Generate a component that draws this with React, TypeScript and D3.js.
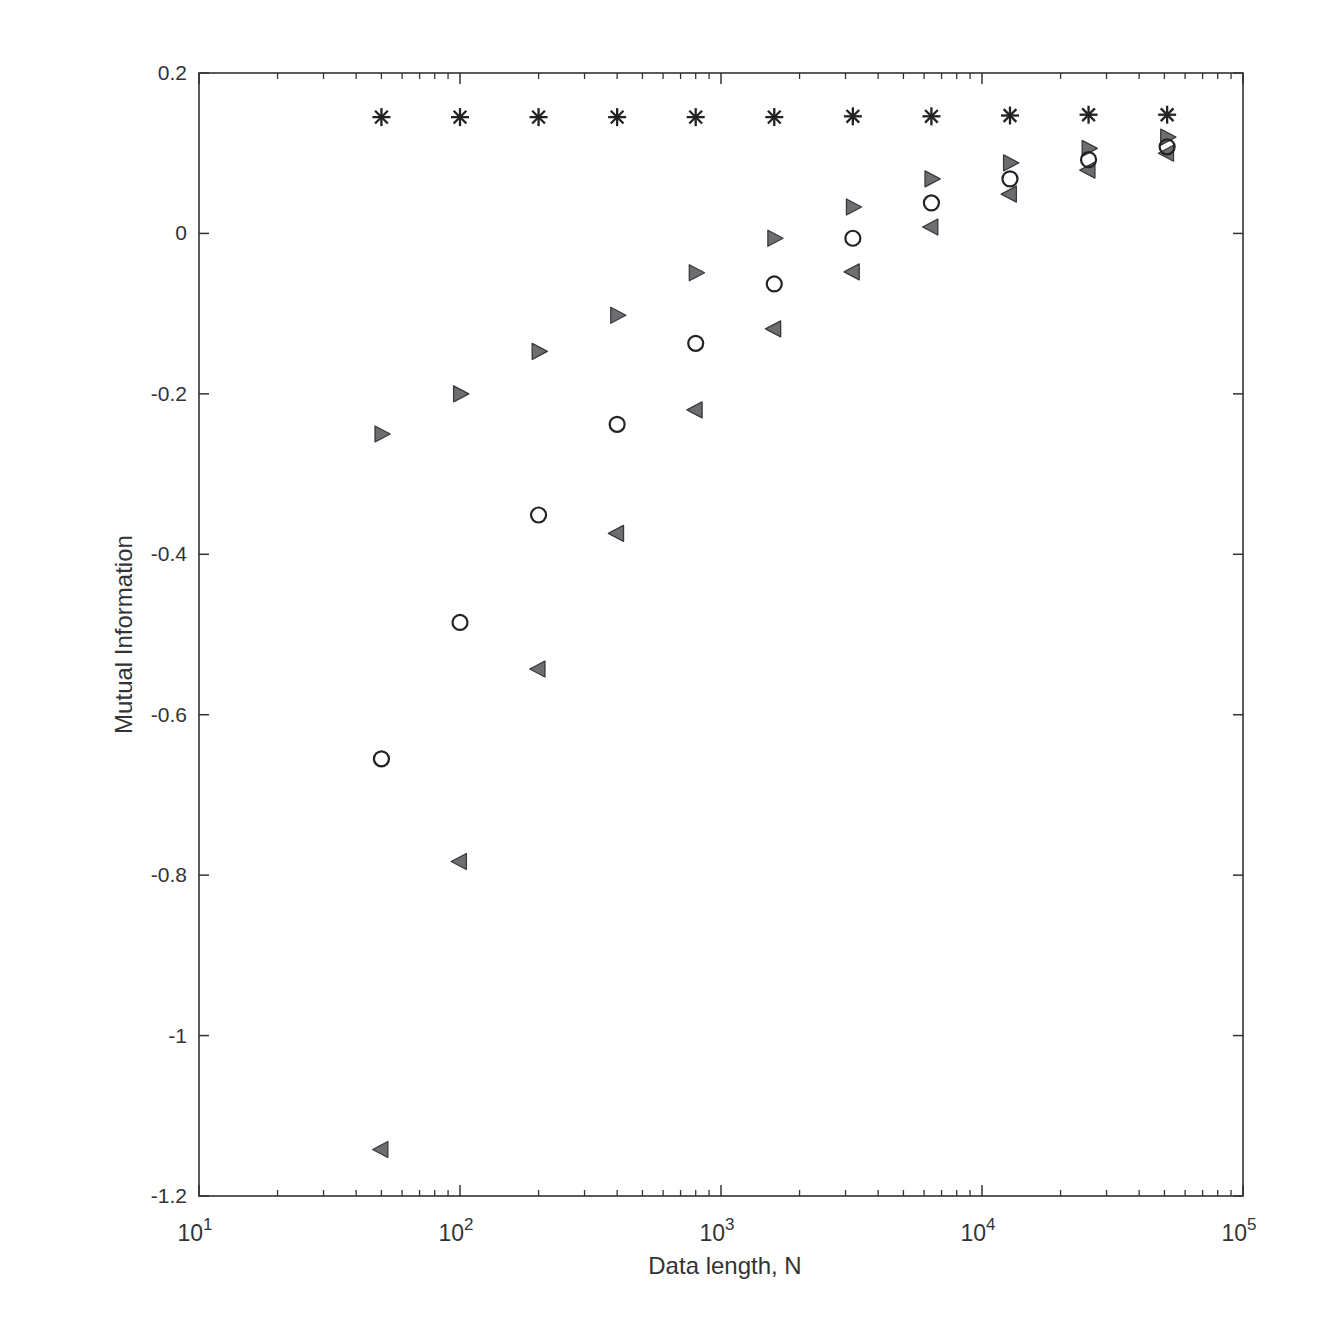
import React from 'react'
import * as d3 from 'd3'

const lengths = [50, 100, 200, 400, 800, 1600, 3200, 6400, 12800, 25600, 51200]
const starValues = [0.145, 0.145, 0.145, 0.145, 0.145, 0.145, 0.146, 0.146, 0.147, 0.148, 0.148]
const rightTriValues = [-0.25, -0.2, -0.147, -0.102, -0.049, -0.006, 0.033, 0.068, 0.088, 0.106, 0.12]
const circleValues = [-0.655, -0.485, -0.351, -0.238, -0.137, -0.063, -0.006, 0.038, 0.068, 0.092, 0.108]
const leftTriValues = [-1.142, -0.783, -0.543, -0.374, -0.22, -0.119, -0.048, 0.008, 0.049, 0.079, 0.1]
const yTicks = [-1.2, -1, -0.8, -0.6, -0.4, -0.2, 0, 0.2]
const xDecades = [1, 2, 3, 4, 5]

const W = 1329
const H = 1321
const left = 199
const right = 1243
const top = 73
const bottom = 1196
const ink = '#333'
const font = '"Liberation Sans", Arial, sans-serif'

// matlab style labels, plain hyphen for minus
const fmtY = (t: number) => String(t)

const App = () => {
    const x = d3.scaleLog().domain([10, 1e5]).range([left, right])
    const y = d3.scaleLinear().domain([-1.2, 0.2]).range([bottom, top])

    const minorTicks: number[] = []
    for (let d = 1; d < 5; d++) {
        for (let m = 2; m <= 9; m++) minorTicks.push(m * Math.pow(10, d))
    }

    const star = (cx: number, cy: number, i: number) => {
        const r = 9
        const lines = [0, 45, 90, 135].map(a => {
            const rad = (a * Math.PI) / 180
            return (
                <line key={a} x1={cx - r * Math.cos(rad)} y1={cy - r * Math.sin(rad)}
                    x2={cx + r * Math.cos(rad)} y2={cy + r * Math.sin(rad)}
                    stroke="#222" strokeWidth={2.3} />
            )
        })
        return <g key={`s${i}`}>{lines}</g>
    }

    const tri = (cx: number, cy: number, dir: number, key: string) => {
        const h = 8
        const pts = dir > 0
            ? [[cx - h * 0.8, cy - h], [cx - h * 0.8, cy + h], [cx + h * 1.1, cy]]
            : [[cx + h * 0.8, cy - h], [cx + h * 0.8, cy + h], [cx - h * 1.1, cy]]
        return <polygon key={key} points={pts.map(p => p.join(',')).join(' ')}
            fill="#6e6e72" stroke="#3a3a3a" strokeWidth={1.3} strokeLinejoin="round" />
    }

    return (
        <svg width={W} height={H} style={{ position: 'absolute', left: 0, top: 0 }}>
            <rect width={W} height={H} fill="#fff" />
            {/* ticks */}
            {yTicks.map(t => (
                <g key={`yt${t}`}>
                    <line x1={left} x2={left + 10} y1={y(t)} y2={y(t)} stroke={ink} strokeWidth={1.5} />
                    <line x1={right} x2={right - 10} y1={y(t)} y2={y(t)} stroke={ink} strokeWidth={1.5} />
                    <text x={left - 12} y={y(t) + 7} textAnchor="end" fontSize={21}
                        fontFamily={font} fill={ink}>{fmtY(t)}</text>
                </g>
            ))}
            {xDecades.map(d => (
                <g key={`xd${d}`}>
                    <line x1={x(Math.pow(10, d))} x2={x(Math.pow(10, d))} y1={bottom} y2={bottom - 11} stroke={ink} strokeWidth={1.5} />
                    <line x1={x(Math.pow(10, d))} x2={x(Math.pow(10, d))} y1={top} y2={top + 11} stroke={ink} strokeWidth={1.5} />
                    <text x={x(Math.pow(10, d)) - 4} y={bottom + 45} textAnchor="middle" fontSize={23}
                        fontFamily={font} fill={ink}>10<tspan dy={-11} fontSize={17}>{d}</tspan></text>
                </g>
            ))}
            {minorTicks.map(t => (
                <g key={`xm${t}`}>
                    <line x1={x(t)} x2={x(t)} y1={bottom} y2={bottom - 6} stroke={ink} strokeWidth={1.3} />
                    <line x1={x(t)} x2={x(t)} y1={top} y2={top + 6} stroke={ink} strokeWidth={1.3} />
                </g>
            ))}
            <rect x={left} y={top} width={right - left} height={bottom - top} fill="none" stroke={ink} strokeWidth={1.6} />

            {/* markers */}
            {lengths.map((n, i) => star(x(n), y(starValues[i]), i))}
            {lengths.map((n, i) => tri(x(n), y(rightTriValues[i]), 1, `r${i}`))}
            {lengths.map((n, i) => tri(x(n), y(leftTriValues[i]), -1, `l${i}`))}
            {lengths.map((n, i) => (
                <circle key={`c${i}`} cx={x(n)} cy={y(circleValues[i])} r={7.5}
                    fill="none" stroke="#222" strokeWidth={2.2} />
            ))}

            <text x={(left + right) / 2 + 4} y={1274} textAnchor="middle" fontSize={24}
                fontFamily={font} fill={ink}>Data length, N</text>
            <text transform={`translate(132, ${(top + bottom) / 2}) rotate(-90)`} textAnchor="middle"
                fontSize={24} fontFamily={font} fill={ink}>Mutual Information</text>
        </svg>
    )
}

export default App
